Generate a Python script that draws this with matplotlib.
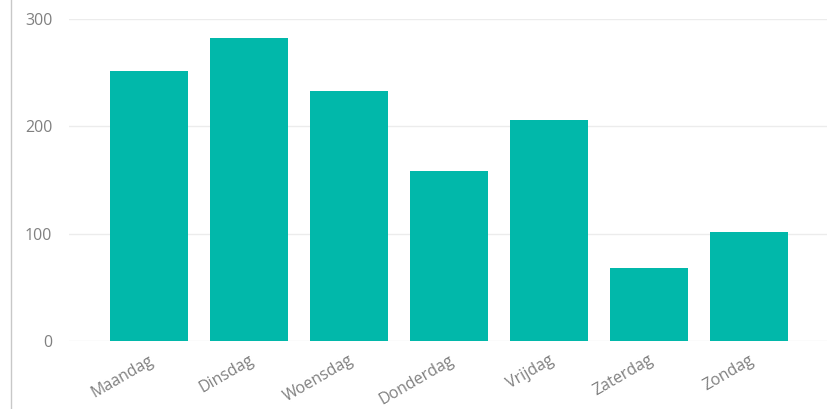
import matplotlib
matplotlib.use("Agg")
import matplotlib.pyplot as plt

days = ["Maandag", "Dinsdag", "Woensdag", "Donderdag", "Vrijdag", "Zaterdag", "Zondag"]
counts = [252, 282, 233, 158, 206, 68, 102]
yticks = [0, 100, 200, 300]

plt.rcParams['font.family'] = ['Open Sans', 'DejaVu Sans']

fig = plt.figure(figsize=(8.27, 4.09), dpi=100)
ax = fig.add_axes([69 / 827, 1 - 341 / 409, 1 - 69 / 827, (341 - 19) / 409])

ax.bar(range(len(days)), counts, width=0.78, color="#01B8AA", zorder=3)

ax.set_xlim(-0.795, 6.785)
ax.set_ylim(0, 300)
ax.set_yticks(yticks)
ax.set_xticks(range(len(days)))
ax.set_xticklabels(days, rotation=30, ha="right", rotation_mode="anchor")
ax.tick_params(axis="both", length=0, colors="#808080")
ax.tick_params(axis="y", pad=12, labelsize=11.5)
ax.tick_params(axis="x", pad=8, labelsize=11.5)
ax.grid(axis="y", color="#ececec", linewidth=1, zorder=0)
ax.set_axisbelow(True)
for s in ax.spines.values():
    s.set_visible(False)

# thin frame line at the far left of the screenshot
fig.add_artist(plt.Line2D([11 / 827, 11 / 827], [0, 1], color="#c8c8c8", linewidth=1))

fig.savefig("out.png", dpi=100)
